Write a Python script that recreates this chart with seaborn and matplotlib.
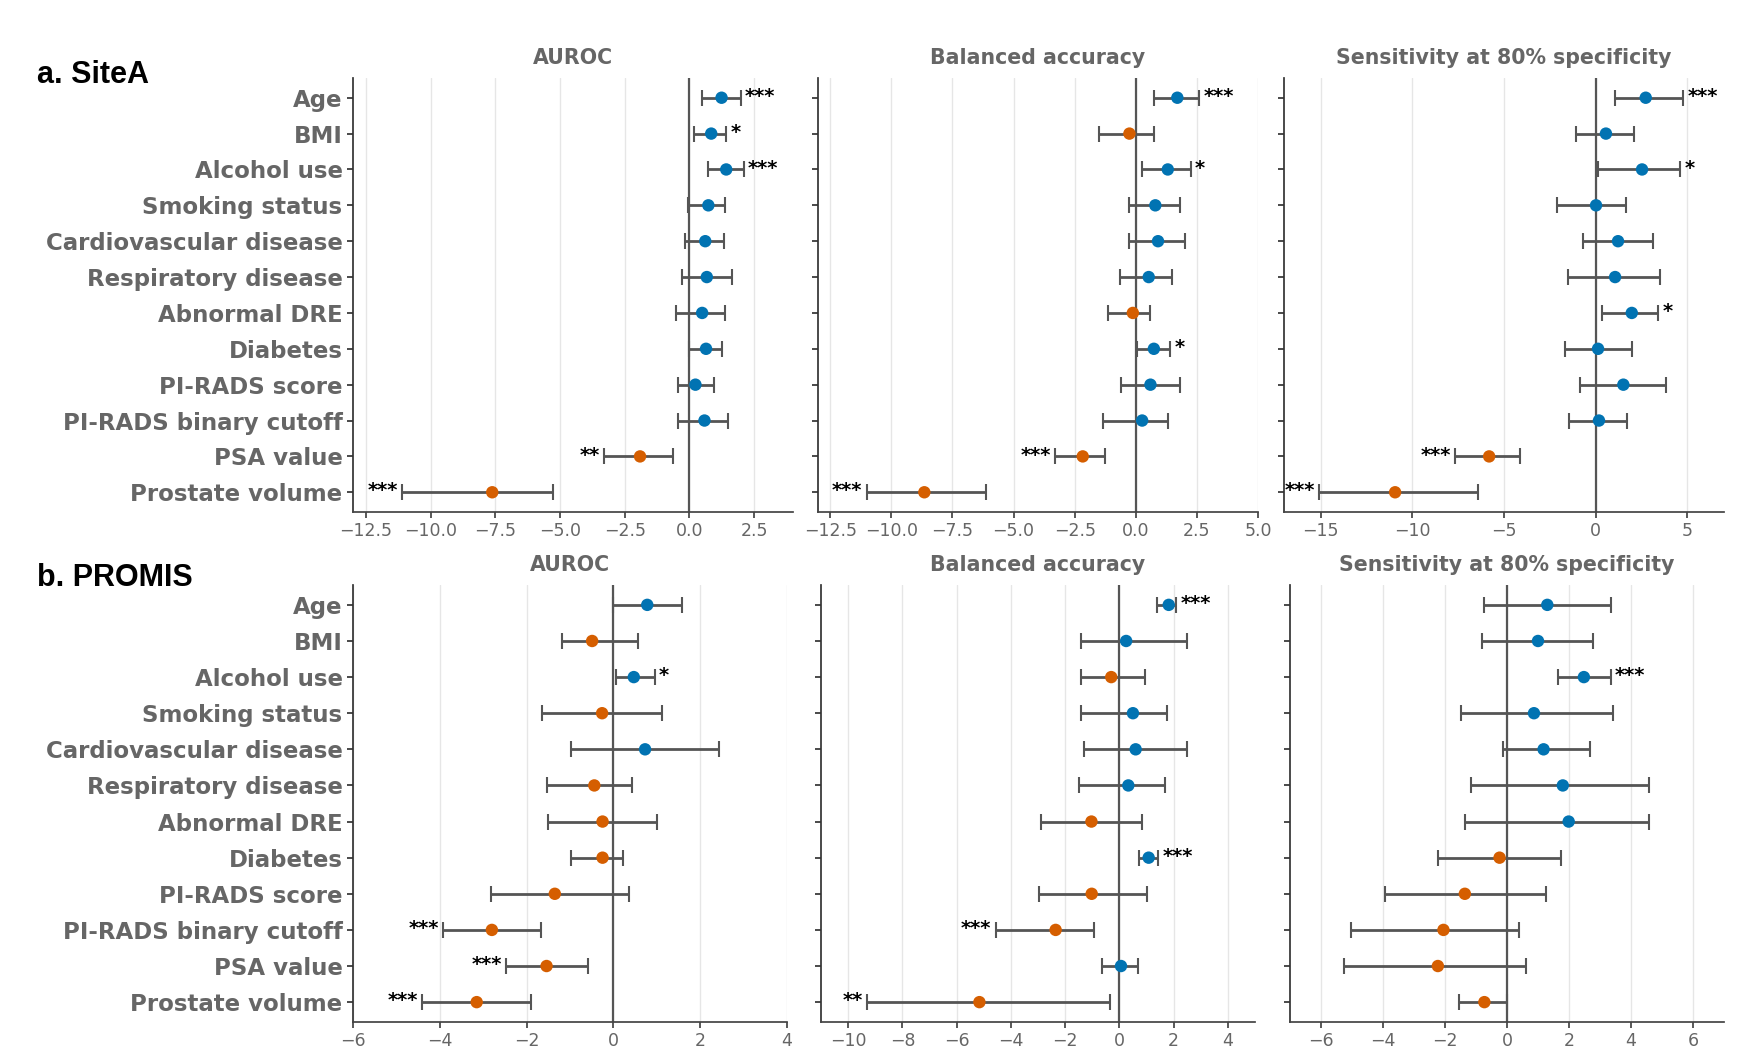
import numpy as np
import pandas as pd
import matplotlib
matplotlib.use("Agg")
import matplotlib.pyplot as plt
from matplotlib.ticker import MultipleLocator
import seaborn as sns

features = ["Age", "BMI", "Alcohol use", "Smoking status", "Cardiovascular disease",
            "Respiratory disease", "Abnormal DRE", "Diabetes", "PI-RADS score",
            "PI-RADS binary cutoff", "PSA value", "Prostate volume"]
metrics = ["AUROC", "Balanced accuracy", "Sensitivity at 80% specificity"]

# a. SiteA
sitea_auroc = [1.24, 0.84, 1.42, 0.73, 0.61, 0.67, 0.49, 0.64, 0.23, 0.58, -1.91, -7.62]
sitea_auroc_lo = [0.49, 0.19, 0.73, -0.04, -0.19, -0.30, -0.53, 0.00, -0.46, -0.43, -3.29, -11.10]
sitea_auroc_hi = [1.98, 1.42, 2.09, 1.37, 1.34, 1.64, 1.39, 1.25, 0.95, 1.47, -0.62, -5.28]
sitea_auroc_sig = ["***", "*", "***", "", "", "", "", "", "", "", "**", "***"]

sitea_bacc = [1.70, -0.26, 1.31, 0.80, 0.91, 0.53, -0.12, 0.74, 0.60, 0.26, -2.17, -8.65]
sitea_bacc_lo = [0.76, -1.49, 0.25, -0.26, -0.29, -0.64, -1.12, 0.04, -0.61, -1.34, -3.31, -11.01]
sitea_bacc_hi = [2.59, 0.74, 2.25, 1.81, 2.02, 1.50, 0.60, 1.42, 1.81, 1.31, -1.25, -6.12]
sitea_bacc_sig = ["***", "", "*", "", "", "", "", "*", "", "", "***", "***"]

sitea_sens = [2.73, 0.56, 2.53, 0.02, 1.22, 1.06, 1.97, 0.13, 1.51, 0.18, -5.81, -10.94]
sitea_sens_lo = [1.06, -1.07, 0.15, -2.09, -0.71, -1.51, 0.36, -1.66, -0.86, -1.46, -7.66, -15.07]
sitea_sens_hi = [4.79, 2.09, 4.60, 1.66, 3.11, 3.53, 3.42, 1.97, 3.86, 1.73, -4.15, -6.42]
sitea_sens_sig = ["***", "", "*", "", "", "", "*", "", "", "", "***", "***"]

# b. PROMIS
promis_auroc = [0.78, -0.49, 0.47, -0.26, 0.73, -0.44, -0.25, -0.25, -1.35, -2.80, -1.54, -3.15]
promis_auroc_lo = [-0.02, -1.18, 0.05, -1.65, -0.98, -1.52, -1.51, -0.98, -2.82, -3.93, -2.48, -4.40]
promis_auroc_hi = [1.59, 0.56, 0.95, 1.11, 2.43, 0.42, 1.00, 0.21, 0.36, -1.66, -0.59, -1.90]
promis_auroc_sig = ["", "", "*", "", "", "", "", "", "", "***", "***", "***"]

promis_bacc = [1.82, 0.25, -0.30, 0.50, 0.60, 0.33, -1.03, 1.08, -1.02, -2.35, 0.06, -5.16]
promis_bacc_lo = [1.40, -1.40, -1.43, -1.43, -1.30, -1.49, -2.89, 0.71, -2.97, -4.56, -0.63, -9.31]
promis_bacc_hi = [2.10, 2.51, 0.93, 1.77, 2.48, 1.68, 0.82, 1.43, 1.03, -0.92, 0.70, -0.33]
promis_bacc_sig = ["***", "", "", "", "", "", "", "***", "", "***", "", "**"]

promis_sens = [1.30, 1.00, 2.48, 0.87, 1.18, 1.80, 1.99, -0.24, -1.36, -2.05, -2.23, -0.73]
promis_sens_lo = [-0.74, -0.80, 1.63, -1.49, -0.12, -1.17, -1.36, -2.23, -3.95, -5.02, -5.26, -1.54]
promis_sens_hi = [3.35, 2.79, 3.35, 3.41, 2.67, 4.59, 4.59, 1.74, 1.25, 0.38, 0.62, 0.00]
promis_sens_sig = ["", "", "***", "", "", "", "", "", "", "", "", ""]

sns.set_theme(style="white")
plt.rcParams["font.family"] = ["DejaVu Sans"]

cb = sns.color_palette("colorblind")
dir_palette = {"up": cb[0], "down": cb[3]}
GREY = "#555555"
LABEL_GREY = "#666666"


def draw_panel(ax, est, lo, hi, sig, xlim, step, title, show_labels):
    df = pd.DataFrame({"feature": features, "est": est, "lo": lo, "hi": hi, "sig": sig})
    df["pos"] = np.arange(len(df))
    df["direction"] = np.where(df["est"] >= 0, "up", "down")

    ax.grid(axis="x", color="#e6e6e6", lw=1)
    ax.set_axisbelow(True)
    ax.axvline(0, color=GREY, lw=1.6, zorder=1)
    ax.errorbar(df["est"], df["pos"],
                xerr=[df["est"] - df["lo"], df["hi"] - df["est"]],
                fmt="none", ecolor=GREY, elinewidth=2, capsize=5.5, capthick=1.5, zorder=2)
    sns.scatterplot(data=df, x="est", y="pos", hue="direction", palette=dir_palette,
                    s=80, edgecolor="none", legend=False, zorder=3, ax=ax)

    for _, r in df.iterrows():
        if not r["sig"]:
            continue
        if r["est"] >= 0:
            ax.annotate(r["sig"], (r["hi"], r["pos"]), xytext=(3, 1), textcoords="offset points",
                        ha="left", va="center", fontsize=14, fontweight="bold", color="black")
        else:
            ax.annotate(r["sig"], (r["lo"], r["pos"]), xytext=(-3, 1), textcoords="offset points",
                        ha="right", va="center", fontsize=14, fontweight="bold", color="black")

    ax.set_xlim(*xlim)
    ax.set_ylim(len(features) - 0.45, -0.55)
    ax.xaxis.set_major_locator(MultipleLocator(step))
    ax.set_yticks(df["pos"])
    if show_labels:
        ax.set_yticklabels(df["feature"], fontsize=16.5, fontweight="bold", color=LABEL_GREY)
    else:
        ax.set_yticklabels([])
    ax.set_xlabel("")
    ax.set_ylabel("")
    ax.set_title(title, fontsize=14.8, fontweight="bold", color=LABEL_GREY, pad=10)
    sns.despine(ax=ax)
    ax.spines["left"].set_color("#333333")
    ax.spines["bottom"].set_color("#444444")
    ax.tick_params(axis="x", bottom=True, length=4, color="#444444", labelsize=12.5,
                   labelcolor=LABEL_GREY)
    ax.tick_params(axis="y", left=True, length=4, color="#333333")


fig = plt.figure(figsize=(17.41, 10.61), dpi=100)
W, H = 1741, 1061

rows = [
    {"top": 78, "bottom": 512, "lefts": [353, 818, 1284], "width": 440,
     "panels": [
         (sitea_auroc, sitea_auroc_lo, sitea_auroc_hi, sitea_auroc_sig, (-13, 4), 2.5),
         (sitea_bacc, sitea_bacc_lo, sitea_bacc_hi, sitea_bacc_sig, (-13, 5), 2.5),
         (sitea_sens, sitea_sens_lo, sitea_sens_hi, sitea_sens_sig, (-17, 7), 5),
     ]},
    {"top": 585, "bottom": 1022, "lefts": [353, 821, 1290], "width": 434,
     "panels": [
         (promis_auroc, promis_auroc_lo, promis_auroc_hi, promis_auroc_sig, (-6, 4), 2),
         (promis_bacc, promis_bacc_lo, promis_bacc_hi, promis_bacc_sig, (-11, 5), 2),
         (promis_sens, promis_sens_lo, promis_sens_hi, promis_sens_sig, (-7, 7), 2),
     ]},
]

for row in rows:
    for j, (est, lo, hi, sig, xlim, step) in enumerate(row["panels"]):
        ax = fig.add_axes([row["lefts"][j] / W, 1 - row["bottom"] / H,
                           row["width"] / W, (row["bottom"] - row["top"]) / H])
        draw_panel(ax, est, lo, hi, sig, xlim, step, metrics[j], show_labels=(j == 0))

fig.text(37 / W, 1 - 83 / H, "a. SiteA", fontsize=22, fontweight="bold", color="black",
         family=["Liberation Sans", "DejaVu Sans"], va="baseline", ha="left")
fig.text(37 / W, 1 - 586 / H, "b. PROMIS", fontsize=22, fontweight="bold", color="black",
         family=["Liberation Sans", "DejaVu Sans"], va="baseline", ha="left")

fig.savefig("out.png", dpi=100)
